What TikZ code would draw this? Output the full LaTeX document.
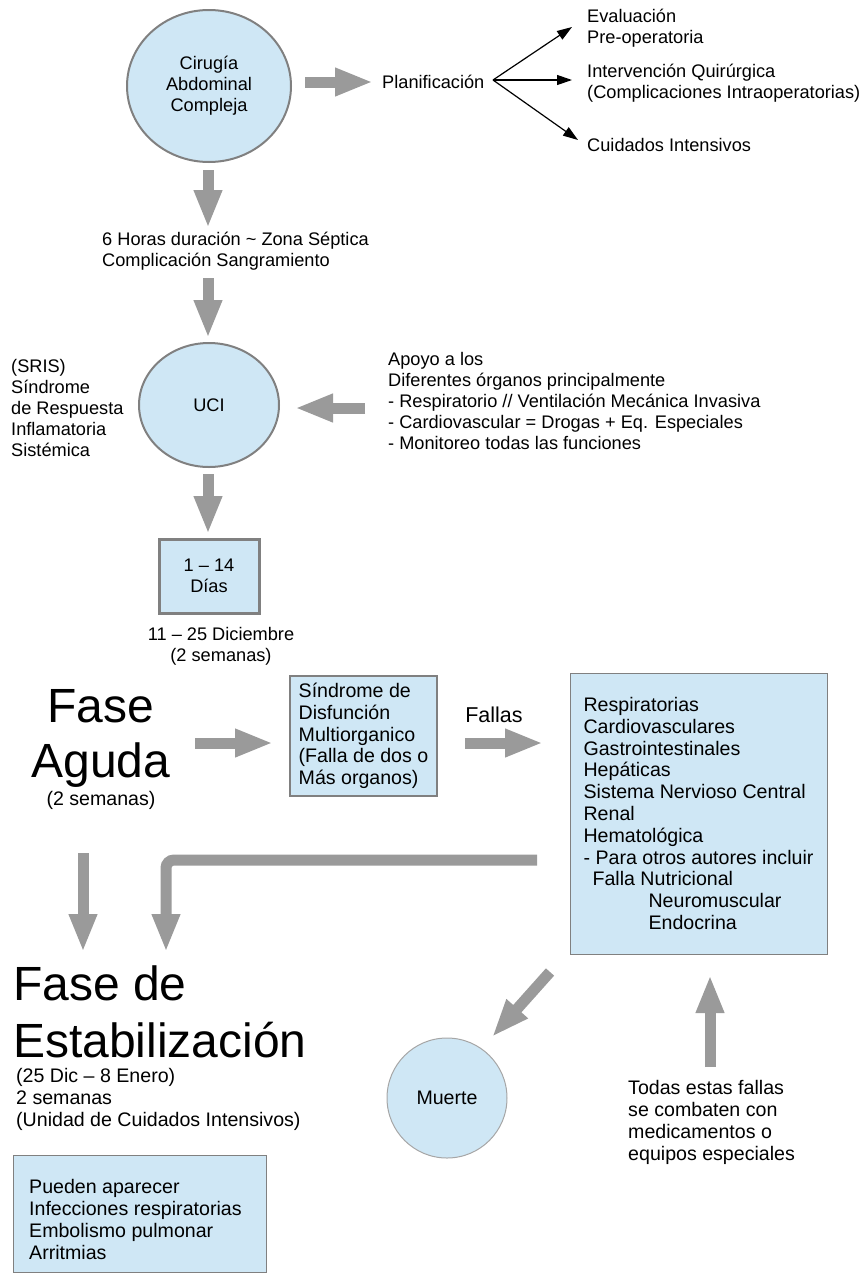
\documentclass[tikz,border=0pt]{standalone}
\usepackage{fontspec}
\setmainfont{Liberation Sans}
\usetikzlibrary{arrows.meta,shapes.geometric}
\definecolor{fillblue}{HTML}{CFE7F5}
\definecolor{edgegray}{HTML}{808080}
\definecolor{arrowgray}{HTML}{9A9A9A}
\begin{document}
\begin{tikzpicture}[x=1pt,y=-1pt]
\tikzset{
  ta/.style={font=\fontsize{18.2}{21}\selectfont, inner sep=0pt},
  tb/.style={font=\fontsize{19.6}{21.8}\selectfont, inner sep=0pt},
  titlefont/.style={font=\fontsize{48}{55}\selectfont, inner sep=0pt},
  blk/.style={draw=arrowgray, line width=11pt, -{Triangle[length=38pt,width=26pt]}},
  fanarrow/.style={draw=black, line width=1.2pt, -{Triangle[length=15pt,width=10pt]}},
  bubble/.style={ellipse, draw=edgegray, line width=2pt, fill=fillblue},
  panel/.style={rectangle, draw=edgegray, fill=fillblue},
}
\useasboundingbox (0,0) rectangle (866,1280);

% ---- top ----
\node[bubble, minimum width=164pt, minimum height=152pt, align=center, ta] (cir) at (209,86) {Cirugía\\Abdominal\\Compleja};
\coordinate (a1s) at (305,82); \coordinate (a1e) at (373,82);
\draw[blk] (a1s) -- (a1e);
\node[ta, anchor=west] (plan) at (382,82) {Planificación};
\coordinate (fan) at (493,80);
\coordinate (t1) at (572,27);
\coordinate (t2) at (572,80);
\coordinate (t3) at (578,140);
\draw[fanarrow] (fan) -- (t1);
\draw[fanarrow] (fan) -- (t2);
\draw[fanarrow] (fan) -- (t3);
\node[ta, anchor=west, align=left] (eval) at (587,28.5) {Evaluación\\Pre-operatoria};
\node[ta, anchor=west, align=left] (interv) at (587,83) {Intervención Quirúrgica\\(Complicaciones Intraoperatorias)};
\node[ta, anchor=west] (cuid) at (587,145) {Cuidados Intensivos};

\coordinate (d1s) at (208,170); \coordinate (d1e) at (208,228);
\draw[blk] (d1s) -- (d1e);
\node[ta, anchor=west, align=left] (horas) at (102,251.5) {6 Horas duración \textasciitilde{} Zona Séptica\\Complicación Sangramiento};
\coordinate (d2s) at (208,278); \coordinate (d2e) at (208,338);
\draw[blk] (d2s) -- (d2e);

% ---- UCI ----
\node[bubble, minimum width=140pt, minimum height=124pt, ta] (uci) at (209,405) {UCI};
\node[ta, anchor=west, align=left] (sris) at (11,408) {(SRIS)\\Síndrome\\de Respuesta\\Inflamatoria\\Sistémica};
\coordinate (las) at (365,408); \coordinate (lae) at (295,408);
\draw[blk] (las) -- (lae);
\node[ta, anchor=west, align=left] (apoyo) at (388,401) {Apoyo a los\\Diferentes órganos principalmente\\- Respiratorio // Ventilación Mecánica Invasiva\\- Cardiovascular = Drogas + Eq. Especiales\\- Monitoreo todas las funciones};
\coordinate (d3s) at (208,474); \coordinate (d3e) at (208,534);
\draw[blk] (d3s) -- (d3e);
\node[panel, line width=3pt, minimum width=100pt, minimum height=74pt, align=center, ta] (dias) at (209,576) {1 – 14\\Días};
\node[ta, align=center] (dic) at (221,646.5) {11 – 25 Diciembre\\(2 semanas)};

% ---- Fase Aguda ----
\node[titlefont, anchor=base] (fase1) at (100.5,722) {Fase};
\node[titlefont, anchor=base] (fase2) at (101,777) {Aguda};
\node[tb] (sem) at (101,800) {(2 semanas)};
\coordinate (fas) at (195,743); \coordinate (fae) at (273,743);
\draw[blk] (fas) -- (fae);
\node[panel, line width=1.5pt, minimum width=147pt, minimum height=120pt, align=left, tb] (sdm) at (363.5,736) {Síndrome de\\Disfunción\\Multiorganico\\(Falla de dos o\\Más organos)};
\node[font=\fontsize{21.5}{24}\selectfont, inner sep=0pt] (fallas) at (494,715) {Fallas};
\coordinate (fls) at (465,743); \coordinate (fle) at (543,743);
\draw[blk] (fls) -- (fle);
\node[panel, line width=1pt, minimum width=257pt, minimum height=281pt, align=left, tb] (fallbox) at (698.5,813.5) {Respiratorias\\Cardiovasculares\\Gastrointestinales\\Hepáticas\\Sistema Nervioso Central\\Renal\\Hematológica\\- Para otros autores incluir\\\hspace*{9pt}Falla Nutricional\\\hspace*{65pt}Neuromuscular\\\hspace*{65pt}Endocrina};

% ---- arrows to Fase de Estabilización ----
\coordinate (lds) at (83,853); \coordinate (lde) at (83,952);
\draw[blk] (lds) -- (lde);
\coordinate (ls) at (537,860); \coordinate (lt) at (166,952);
\draw[blk, rounded corners=8pt] (ls) -| (lt);

% ---- Fase de Estabilizacion ----
\node[titlefont, anchor=base west] (est1) at (13,1000) {Fase de};
\node[titlefont, anchor=base west] (est2) at (13,1057) {Estabilización};
\node[tb, anchor=west, align=left] (fechas) at (16,1099.5) {(25 Dic – 8 Enero)\\2 semanas\\(Unidad de Cuidados Intensivos)};
\node[panel, line width=1pt, minimum width=253pt, minimum height=117pt] (bbox) at (139.5,1213.5) {};
\node[tb, anchor=west, align=left] (btext) at (29,1219.5) {Pueden aparecer\\Infecciones respiratorias\\Embolismo pulmonar\\Arritmias};

% ---- Muerte ----
\coordinate (dgs) at (550,972); \coordinate (dge) at (492,1037);
\draw[blk] (dgs) -- (dge);
\node[bubble, line width=1pt, draw=gray!70, minimum width=120pt, minimum height=120pt, tb] (muerte) at (447,1098) {Muerte};
\coordinate (ups) at (710,1067); \coordinate (upe) at (710,975);
\draw[blk] (ups) -- (upe);
\node[tb, anchor=west, align=left] (todas) at (628,1122.5) {Todas estas fallas\\se combaten con\\medicamentos o\\equipos especiales};
\end{tikzpicture}
\end{document}
